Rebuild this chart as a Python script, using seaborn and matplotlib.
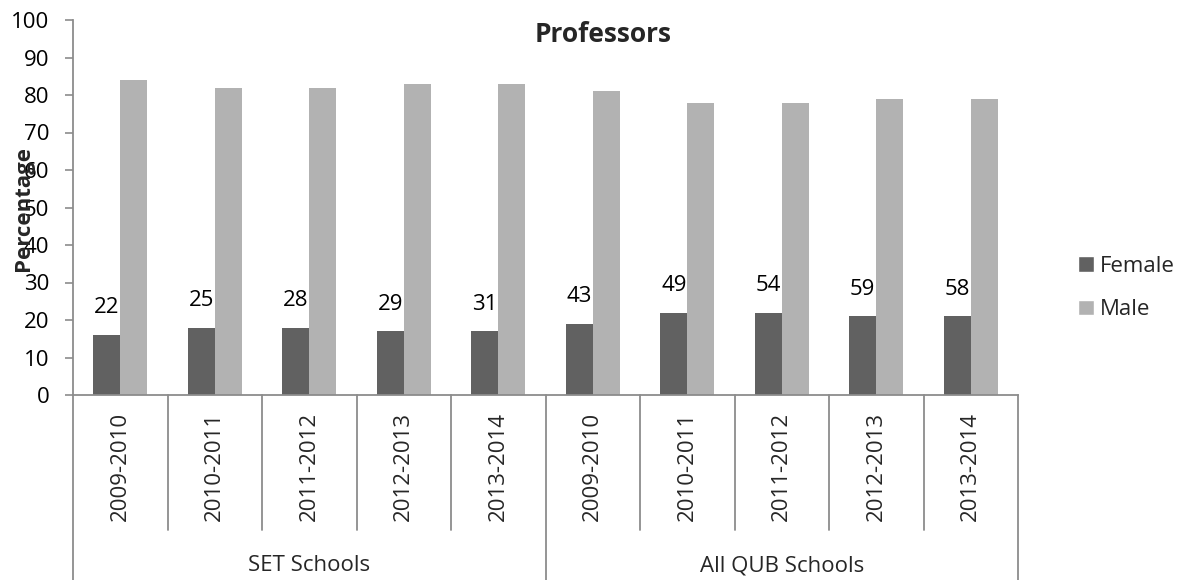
import matplotlib
matplotlib.use("Agg")
import matplotlib.pyplot as plt
from matplotlib.patches import Patch
import seaborn as sns
import pandas as pd

# Academic years and school groups
years = ["2009-2010", "2010-2011", "2011-2012", "2012-2013", "2013-2014"]
groups = ["SET Schools", "All QUB Schools"]

# Percentage of professors by sex (SET first, then all QUB schools)
female_pct = [16, 18, 18, 17, 17, 19, 22, 22, 21, 21]
male_pct = [84, 82, 82, 83, 83, 81, 78, 78, 79, 79]
# Number of female professors, shown above the female bars
female_count = [22, 25, 28, 29, 31, 43, 49, 54, 59, 58]

sns.set_theme(style="white")
plt.rcParams["font.family"] = ["Open Sans", "DejaVu Sans"]

keys = [f"{g}|{y}" for g in groups for y in years]
df = pd.DataFrame({
    "key": keys * 2,
    "sex": ["Female"] * len(keys) + ["Male"] * len(keys),
    "pct": female_pct + male_pct,
})

dark, light = "#616161", "#b2b2b2"
axis_grey = "#8c8c8c"
fs = 16

fig = plt.figure(figsize=(11.82, 5.80), dpi=100)
ax = fig.add_axes([73 / 1182, 185 / 580, 945 / 1182, 375 / 580])

sns.barplot(data=df, x="key", y="pct", hue="sex", order=keys,
            hue_order=["Female", "Male"], palette=[dark, light],
            width=0.57, saturation=1, legend=False, linewidth=0, ax=ax)

ax.set_ylim(0, 100)
ax.set_xlim(-0.5, len(keys) - 0.5)
ax.set_yticks(range(0, 101, 10))
ax.tick_params(axis="y", which="major", left=True, length=6, width=1.2,
               color=axis_grey, labelsize=fs, pad=11, labelcolor="black")
ax.tick_params(axis="x", bottom=False, labelbottom=False)
ax.set_xlabel("")
ax.set_ylabel("")
for side in ("top", "right"):
    ax.spines[side].set_visible(False)
for side in ("left", "bottom"):
    ax.spines[side].set_color(axis_grey)
    ax.spines[side].set_linewidth(1.3)

# Counts of female professors above the female bars
ax.bar_label(ax.containers[0], labels=[str(c) for c in female_count],
             padding=12, fontsize=fs, color="black")

# Two-level category axis: year cells and school group cells
xt = ax.get_xaxis_transform()
n = len(years)
for i in range(1, len(keys)):
    if i % n:
        ax.plot([i - 0.5, i - 0.5], [0, -0.36], transform=xt, color=axis_grey,
                lw=1.3, clip_on=False)
for i in range(0, len(keys) + 1, n):
    ax.plot([i - 0.5, i - 0.5], [0, -0.495], transform=xt, color=axis_grey,
            lw=1.3, clip_on=False)
for i, k in enumerate(keys):
    ax.text(i, -0.045, k.split("|")[1], transform=xt, rotation=90,
            ha="center", va="top", fontsize=fs)
for j, g in enumerate(groups):
    ax.text(j * n + (n - 1) / 2, -0.455, g, transform=xt,
            ha="center", va="center", fontsize=fs)

# Title and axis label
fig.text(603 / 1182, 1 - 34 / 580, "Professors", ha="center", va="center",
         fontsize=19, fontweight="bold")
fig.text(24 / 1182, 1 - 208 / 580, "Percentage", ha="center", va="center",
         rotation=90, fontsize=16, fontweight="bold")

# Legend
handles = [Patch(facecolor=dark, label="Female"), Patch(facecolor=light, label="Male")]
fig.legend(handles=handles, loc="center left",
           bbox_to_anchor=(1078 / 1182, 1 - 288 / 580), frameon=False,
           fontsize=fs, handlelength=0.7, handleheight=0.7,
           handletextpad=0.3, labelspacing=1.0, borderpad=0, borderaxespad=0)

fig.savefig("out.png", dpi=100)
